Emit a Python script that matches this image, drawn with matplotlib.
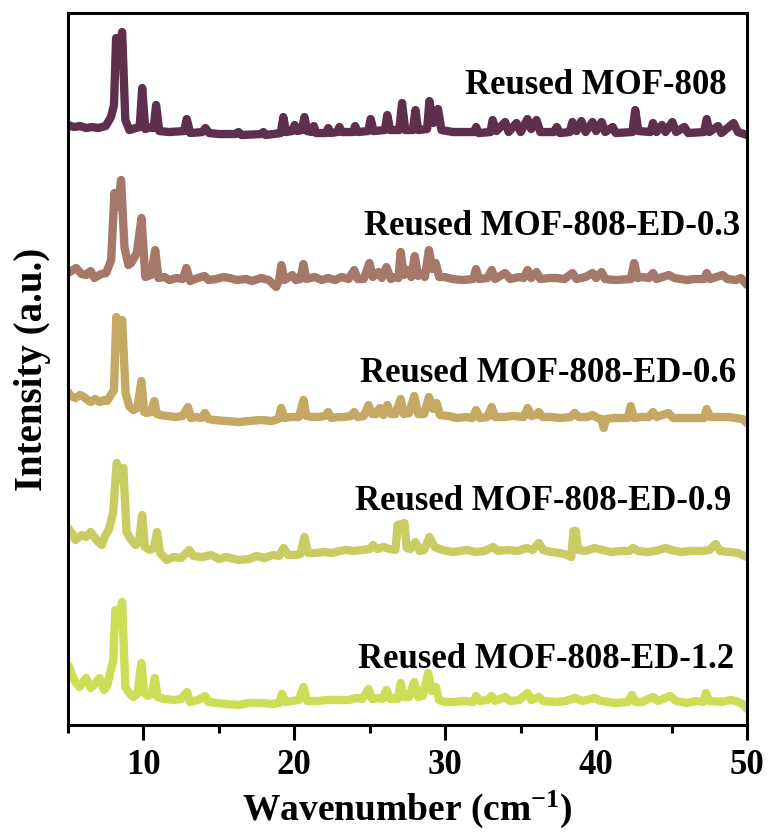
import matplotlib
matplotlib.use('Agg')
import matplotlib.pyplot as plt
from matplotlib.ticker import MultipleLocator

plt.rcParams['font.family'] = ['Liberation Serif', 'DejaVu Serif']
plt.rcParams['font.weight'] = 'bold'
plt.rcParams['mathtext.fontset'] = 'custom'
plt.rcParams['mathtext.rm'] = 'Liberation Serif:bold'
plt.rcParams['mathtext.bf'] = 'Liberation Serif:bold'
plt.rcParams['mathtext.default'] = 'bf'

# Sample names, top to bottom
names = ['Reused MOF-808', 'Reused MOF-808-ED-0.3', 'Reused MOF-808-ED-0.6',
         'Reused MOF-808-ED-0.9', 'Reused MOF-808-ED-1.2']

# Patterns: (2theta, intensity above own baseline)
mof808 = [(5.0, 10), (5.4, 8), (5.8, 9), (6.2, 7), (6.6, 8), (7.0, 7), (7.5, 9), (7.85, 18), (8.05, 30),
          (8.19, 97), (8.4, 85), (8.59, 103), (8.8, 15), (9.07, 5), (9.5, 7), (9.75, 8), (9.92, 47),
          (10.12, 6), (10.5, 8), (10.68, 7), (10.84, 30), (11.05, 4), (11.7, 3), (12.7, 4), (12.87, 16),
          (13.1, 2), (13.9, 3), (14.11, 7), (14.35, 2), (15.0, 1), (16.1, 1), (16.3, 3), (16.5, 0),
          (17.8, 1), (17.95, 3), (18.1, 0), (19.1, 2), (19.27, 18), (19.45, 3), (19.85, 4), (20.02, 10),
          (20.2, 4), (20.5, 5), (20.67, 18), (20.85, 4), (21.15, 3), (21.29, 9), (21.45, 2), (22.1, 2),
          (22.25, 7), (22.4, 2), (22.85, 3), (22.99, 8), (23.15, 3), (23.9, 3), (24.03, 9), (24.2, 3),
          (24.9, 4), (25.06, 16), (25.25, 4), (26.0, 5), (26.16, 20), (26.35, 5), (26.95, 5), (27.14, 32),
          (27.35, 5), (27.85, 5), (28.03, 25), (28.2, 5), (28.8, 6), (28.95, 34), (29.2, 12), (29.52, 26),
          (29.75, 5), (30.5, 3), (31.9, 3), (32.05, 8), (32.2, 2), (33.0, 3), (33.14, 15), (33.4, 4),
          (33.97, 13), (34.2, 3), (34.72, 12), (35.0, 3), (35.45, 16), (35.7, 6), (36.05, 15), (36.3, 3),
          (37.2, 3), (37.39, 8), (37.6, 2), (38.25, 3), (38.43, 13), (38.7, 4), (39.02, 14), (39.3, 3),
          (39.76, 13), (40.0, 4), (40.36, 13), (40.6, 3), (41.1, 8), (41.3, 2), (42.4, 3), (42.59, 25),
          (42.8, 4), (43.6, 3), (43.77, 12), (44.0, 3), (44.36, 10), (44.6, 3), (45.05, 13), (45.3, 3),
          (45.85, 8), (46.1, 2), (47.15, 3), (47.33, 16), (47.5, 3), (48.08, 9), (48.3, 2), (49.11, 12),
          (49.4, 3), (50.0, 0)]

ed03 = [(5.0, 10), (5.54, 15), (5.9, 9), (6.2, 8), (6.5, 12), (6.75, 5), (7.2, 9), (7.53, 10), (7.86, 23),
        (8.08, 90), (8.3, 76), (8.52, 103), (8.74, 36), (9.0, 18), (9.19, 20), (9.56, 30), (9.87, 65),
        (10.13, 6), (10.51, 8), (10.78, 33), (11.0, 5), (11.4, 6), (11.73, 3), (12.2, 5), (12.6, 4),
        (12.85, 15), (13.1, 2), (13.6, 5), (14.05, 7), (14.3, 3), (14.82, 4), (15.3, 6), (15.71, 5),
        (16.2, 3), (16.8, 4), (17.2, 2), (17.79, 5), (18.3, 3), (18.8, -4), (19.0, 3), (19.14, 18),
        (19.35, 3), (19.87, 8), (20.1, 3), (20.4, 4), (20.6, 19), (20.8, 4), (21.35, 6), (21.8, 3),
        (22.24, 5), (22.7, 3), (23.13, 6), (23.6, 4), (23.97, 13), (24.2, 4), (24.6, 4), (24.98, 20),
        (25.2, 6), (25.57, 11), (25.8, 5), (26.1, 16), (26.4, 4), (26.55, 6), (26.9, 5), (27.05, 31),
        (27.25, 8), (27.53, 13), (27.75, 6), (27.98, 27), (28.2, 7), (28.42, 10), (28.65, 6), (28.92, 33),
        (29.15, 14), (29.37, 20), (29.6, 6), (29.96, 6), (30.5, 4), (31.15, 3), (31.85, 4), (32.04, 14),
        (32.25, 4), (32.8, 5), (33.08, 13), (33.3, 4), (33.97, 10), (34.3, 4), (34.9, 6), (35.2, 5),
        (35.46, 13), (35.7, 5), (36.05, 11), (36.3, 4), (36.9, 5), (37.39, 5), (37.9, 4), (38.43, 10),
        (38.7, 4), (39.3, 6), (39.76, 10), (40.0, 5), (40.36, 11), (40.6, 4), (41.25, 3), (42.3, 4),
        (42.52, 20), (42.75, 5), (43.03, 6), (43.5, 5), (43.77, 10), (44.0, 4), (44.81, 8), (45.2, 5),
        (46.0, 3), (46.5, 4), (47.15, 4), (47.33, 10), (47.55, 4), (48.37, 8), (48.7, 4), (49.26, 3),
        (49.6, 5), (50.0, -2)]

ed06 = [(5.0, 30), (5.2, 26), (5.5, 24), (5.8, 27), (6.06, 25), (6.3, 22), (6.5, 20), (6.8, 23), (7.1, 20),
        (7.4, 22), (7.6, 21), (7.84, 27), (8.05, 32), (8.2, 105), (8.38, 92), (8.59, 102), (8.82, 29),
        (9.05, 16), (9.33, 12), (9.6, 14), (9.86, 41), (10.05, 10), (10.22, 9), (10.5, 10), (10.72, 21),
        (10.9, 8), (11.11, 7), (11.6, 6), (12.15, 5), (12.6, 6), (12.95, 15), (13.15, 4), (13.5, 5),
        (13.85, 4), (14.08, 9), (14.3, 3), (14.67, 2), (15.5, 1), (16.3, 0), (17.0, 1), (17.79, 2),
        (18.5, 1), (18.95, 3), (19.13, 14), (19.35, 4), (19.7, 5), (20.0, 5), (20.3, 5), (20.61, 22),
        (20.8, 6), (21.2, 5), (21.6, 5), (22.0, 6), (22.24, 10), (22.45, 4), (22.9, 5), (23.3, 5),
        (23.75, 6), (23.97, 10), (24.2, 5), (24.6, 6), (24.92, 17), (25.15, 8), (25.4, 8), (25.66, 14),
        (25.9, 7), (26.16, 17), (26.4, 8), (26.7, 8), (27.05, 23), (27.25, 8), (27.6, 9), (27.95, 26),
        (28.2, 8), (28.6, 8), (28.92, 25), (29.2, 13), (29.43, 19), (29.65, 7), (30.2, 6), (30.8, 4),
        (31.4, 5), (31.8, 4), (32.04, 12), (32.3, 4), (32.8, 5), (33.08, 15), (33.3, 5), (33.9, 5),
        (34.5, 6), (35.2, 5), (35.46, 14), (35.7, 6), (36.0, 7), (36.2, 10), (36.45, 5), (37.0, 5),
        (37.6, 4), (38.3, 5), (38.58, 9), (38.85, 5), (39.4, 5), (39.76, 7), (40.1, 4), (40.35, 3),
        (40.5, -6), (40.65, 3), (41.2, 4), (41.8, 4), (42.1, 4), (42.29, 16), (42.5, 4), (43.0, 5),
        (43.5, 5), (43.77, 10), (44.0, 5), (44.8, 9), (45.1, 4), (45.8, 4), (46.5, 4), (47.15, 4),
        (47.33, 13), (47.55, 5), (48.2, 5), (48.8, 5), (49.26, 4), (49.7, 3), (50.0, -1)]

ed09 = [(5.0, 30), (5.3, 24), (5.5, 18), (5.91, 23), (6.2, 21), (6.5, 26), (6.8, 20), (7.0, 16), (7.25, 13),
        (7.45, 22), (7.7, 28), (7.99, 45), (8.23, 95), (8.44, 78), (8.67, 90), (8.88, 26), (9.2, 18),
        (9.48, 13), (9.7, 16), (9.92, 43), (10.1, 11), (10.4, 8), (10.7, 10), (10.9, 26), (11.1, 5),
        (11.55, -2), (12.0, 1), (12.5, 0), (13.04, 8), (13.3, 2), (13.9, 1), (14.5, 3), (15.0, -1),
        (15.5, 1), (16.3, -2), (17.0, -1), (17.5, 2), (18.0, 0), (18.6, 3), (19.0, 2), (19.28, 10),
        (19.6, 3), (20.0, 3), (20.4, 4), (20.67, 21), (20.9, 5), (21.4, 5), (22.0, 6), (22.5, 5),
        (23.0, 7), (23.43, 8), (23.9, 7), (24.5, 8), (25.0, 9), (25.21, 13), (25.5, 9), (25.9, 11),
        (26.3, 9), (26.7, 8), (26.85, 33), (27.3, 35), (27.45, 10), (27.7, 9), (28.03, 16), (28.3, 7),
        (28.6, 8), (28.95, 21), (29.3, 11), (29.8, 8), (30.5, 6), (31.0, 7), (31.45, 8), (32.0, 6),
        (32.6, 7), (33.17, 11), (33.5, 7), (34.1, 8), (34.8, 7), (35.4, 10), (35.8, 8), (36.2, 15),
        (36.5, 8), (37.0, 6), (37.6, 5), (38.1, 3), (38.35, 1), (38.5, 27), (38.65, 27), (38.8, 8),
        (39.3, 7), (39.9, 10), (40.4, 8), (41.0, 6), (41.6, 7), (42.2, 7), (42.44, 10), (42.8, 7),
        (43.4, 6), (43.9, 7), (44.6, 10), (45.0, 8), (45.6, 6), (46.3, 7), (47.0, 7), (47.5, 8),
        (47.93, 14), (48.2, 7), (48.8, 6), (49.4, 5), (50.0, 1)]

ed12 = [(5.0, 41), (5.1, 38), (5.3, 30), (5.5, 24), (5.77, 19), (6.0, 24), (6.21, 28), (6.5, 18), (6.8, 22),
        (7.1, 28), (7.4, 16), (7.6, 20), (7.84, 36), (8.0, 45), (8.14, 96), (8.35, 86), (8.59, 104),
        (8.8, 19), (9.1, 12), (9.33, 9), (9.6, 12), (9.86, 43), (10.05, 13), (10.3, 10), (10.55, 12),
        (10.75, 28), (10.95, 9), (11.4, 7), (12.0, 6), (12.5, 7), (12.89, 14), (13.1, 4), (13.6, 6),
        (14.08, 10), (14.3, 4), (14.9, 3), (15.5, 2), (16.3, 1), (17.0, 3), (17.79, 3), (18.5, 2),
        (19.0, 3), (19.19, 12), (19.4, 4), (19.87, 5), (20.3, 6), (20.61, 19), (20.85, 5), (21.5, 5),
        (22.2, 6), (22.9, 6), (23.6, 6), (24.1, 8), (24.5, 7), (24.92, 17), (25.15, 7), (25.6, 8),
        (25.85, 7), (26.1, 16), (26.35, 7), (26.55, 8), (26.85, 7), (27.05, 23), (27.25, 9), (27.6, 9),
        (27.95, 24), (28.2, 9), (28.5, 10), (28.87, 33), (29.1, 15), (29.37, 19), (29.6, 6), (29.96, 4),
        (30.6, 4), (31.3, 5), (31.85, 4), (32.04, 10), (32.3, 5), (32.8, 6), (33.08, 10), (33.3, 5),
        (33.97, 9), (34.3, 5), (34.9, 6), (35.46, 13), (35.7, 6), (36.2, 9), (36.5, 5), (37.39, 4),
        (38.0, 5), (38.6, 8), (39.1, 5), (39.9, 8), (40.3, 5), (41.25, 3), (42.1, 4), (42.38, 11),
        (42.6, 4), (43.03, 4), (43.77, 9), (44.1, 5), (44.9, 10), (45.3, 5), (46.0, 3), (46.6, 5),
        (47.1, 4), (47.27, 13), (47.5, 5), (48.37, 4), (48.9, 6), (49.26, 5), (49.7, 2), (50.0, -3)]

patterns = [mof808, ed03, ed06, ed09, ed12]
offsets = [590, 442, 303, 167, 19]
colors = ['#5e304e', '#a67869', '#c4a864', '#c9cb63', '#cddd55']

# label anchor (right edge x, baseline y)
label_pos = [(48.68, 631), (49.54, 490), (49.27, 343), (48.94, 215), (49.14, 57)]

fig = plt.figure(figsize=(7.68, 8.36), dpi=100)
ax = fig.add_axes([0.0885, 0.1328, 0.8842, 0.8516])

for pat, off, col in zip(patterns, offsets, colors):
    xs = [p[0] for p in pat]
    ys = [p[1] + off for p in pat]
    ax.plot(xs, ys, color=col, linewidth=6, solid_joinstyle='round', solid_capstyle='round')

for name, (lx, ly) in zip(names, label_pos):
    ax.text(lx, ly, name, ha='right', va='baseline', fontsize=25, fontweight='bold')

ax.set_xlim(5, 50)
ax.set_ylim(0, 712)
ax.xaxis.set_major_locator(MultipleLocator(10))
ax.xaxis.set_minor_locator(MultipleLocator(5))
ax.set_yticks([])
ax.tick_params(axis='x', which='major', direction='out', length=11, width=2.2, labelsize=25, pad=6)
ax.tick_params(axis='x', which='minor', direction='out', length=6, width=2.2)
for s in ax.spines.values():
    s.set_linewidth(2.2)

ax.set_xlabel(r'Wavenumber (cm$^{-1}$)', fontsize=27, fontweight='bold')
ax.xaxis.set_label_coords(0.5, -0.09)
ax.set_ylabel('Intensity (a.u.)', fontsize=28, fontweight='bold')
ax.yaxis.set_label_coords(-0.025, 0.5)

fig.savefig('out.png', dpi=100)
